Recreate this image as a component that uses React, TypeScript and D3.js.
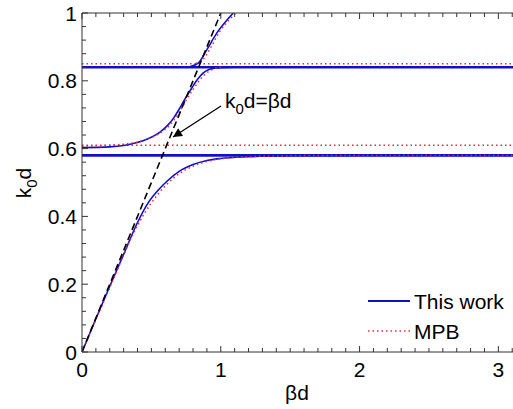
import React from 'react';
import * as d3 from 'd3';

// curves, [beta*d, k0*d]
const lowerBlue: [number, number][] = [
  [0, 0], [0.1, 0.098], [0.2, 0.194], [0.3, 0.288], [0.4, 0.382], [0.48, 0.442],
  [0.55, 0.478], [0.61, 0.503], [0.7, 0.533], [0.8, 0.553], [0.9, 0.565], [1.0, 0.571],
  [1.2, 0.576], [1.5, 0.579], [2.0, 0.58], [Math.PI, 0.58],
];
const lowerRed: [number, number][] = [
  [0, 0], [0.2, 0.19], [0.4, 0.373], [0.5, 0.44], [0.6, 0.49], [0.7, 0.526],
  [0.8, 0.548], [0.9, 0.562], [1.0, 0.57], [1.2, 0.576], [1.5, 0.579], [2.0, 0.58], [Math.PI, 0.58],
];
const middleBlue: [number, number][] = [
  [0, 0.603], [0.2, 0.605], [0.3, 0.609], [0.39, 0.617], [0.48, 0.63], [0.56, 0.648],
  [0.62, 0.67], [0.66, 0.69], [0.7, 0.716], [0.74, 0.745], [0.79, 0.778], [0.83, 0.803],
  [0.87, 0.822], [0.92, 0.834], [1.0, 0.839], [1.1, 0.84],
];
const middleRed: [number, number][] = [
  [0, 0.607], [0.3, 0.613], [0.45, 0.625], [0.55, 0.643], [0.63, 0.668], [0.69, 0.7],
  [0.75, 0.742], [0.8, 0.774], [0.85, 0.803], [0.9, 0.824], [0.95, 0.835], [1.0, 0.84],
];
const topBlue: [number, number][] = [
  [0.78, 0.842], [0.84, 0.853], [0.9, 0.892], [0.97, 0.94], [1.03, 0.972], [1.09, 1.0],
];
const topRed: [number, number][] = [
  [0.82, 0.851], [0.87, 0.862], [0.93, 0.9], [0.99, 0.944], [1.05, 0.975], [1.11, 1.0],
];
const flatBlue = [0.58, 0.84];
const flatRed = [0.61, 0.85];
const lightLine: [number, number][] = [[0, 0], [1, 1]];

const xTicks = [0, 1, 2, 3];
const yTicks = [0, 0.2, 0.4, 0.6, 0.8, 1];

const font = 'Liberation Sans, Arial, sans-serif';

export default function App() {
  const width = 513;
  const height = 409;
  const x = d3.scaleLinear().domain([0, Math.PI]).range([82, 518]);
  const y = d3.scaleLinear().domain([0, 1]).range([352, 13]);
  const line = d3
    .line<[number, number]>()
    .x((d) => x(d[0]))
    .y((d) => y(d[1]))
    .curve(d3.curveMonotoneX);

  const xMinor = d3.range(0, 3.15, 0.1);
  const yMinor = d3.range(0, 1.001, 0.04);
  const blue = '#1010c8';
  const red = '#e8283c';

  return (
    <svg width={width} height={height} style={{ position: 'absolute', left: 0, top: 0 }}>
      <defs>
        <clipPath id="plot">
          <rect x={x(0)} y={y(1)} width={x(Math.PI) - x(0)} height={y(0) - y(1)} />
        </clipPath>
        <marker id="head" viewBox="0 0 10 10" refX="10" refY="5" markerWidth="12" markerHeight="9" markerUnits="userSpaceOnUse" orient="auto">
          <path d="M0,0 L10,5 L0,10 z" fill="#000" />
        </marker>
      </defs>
      <rect width={width} height={height} fill="#fff" />

      <g clipPath="url(#plot)" fill="none">
        {flatRed.map((k) => (
          <line key={'fr' + k} x1={x(0)} x2={x(Math.PI)} y1={y(k)} y2={y(k)} stroke={red} strokeWidth={1.5} strokeDasharray="1.5,3" />
        ))}
        {flatBlue.map((k) => (
          <line key={'fb' + k} x1={x(0)} x2={x(Math.PI)} y1={y(k)} y2={y(k)} stroke={blue} strokeWidth={2.6} />
        ))}
        <path d={line(lowerBlue) ?? ''} stroke={blue} strokeWidth={1.6} />
        <path d={line(middleBlue) ?? ''} stroke={blue} strokeWidth={1.6} />
        <path d={line(topBlue) ?? ''} stroke={blue} strokeWidth={1.6} />
        <path d={line(lowerRed) ?? ''} stroke={red} strokeWidth={1.5} strokeDasharray="1.5,3" />
        <path d={line(middleRed) ?? ''} stroke={red} strokeWidth={1.5} strokeDasharray="1.5,3" />
        <path d={line(topRed) ?? ''} stroke={red} strokeWidth={1.5} strokeDasharray="1.5,3" />
        <path d={d3.line()(lightLine.map((d) => [x(d[0]), y(d[1])])) ?? ''} stroke="#000" strokeWidth={1.6} strokeDasharray="7,4" />
      </g>

      {/* axes box */}
      <g stroke="#333" strokeWidth={1}>
        <line x1={x(0)} x2={x(0)} y1={y(0)} y2={y(1)} />
        <line x1={x(0)} x2={width} y1={y(0)} y2={y(0)} />
        <line x1={x(0)} x2={width} y1={y(1)} y2={y(1)} />
        {xMinor.map((t) => {
          const major = Math.abs(t - Math.round(t)) < 1e-6;
          const len = major ? 6 : 4;
          return (
            <g key={'xt' + t}>
              <line x1={x(t)} x2={x(t)} y1={y(0)} y2={y(0) - len} />
              <line x1={x(t)} x2={x(t)} y1={y(1)} y2={y(1) + len} />
            </g>
          );
        })}
        {yMinor.map((t) => {
          const major = Math.abs(t * 5 - Math.round(t * 5)) < 1e-6;
          return <line key={'yt' + t} x1={x(0)} x2={x(0) + (major ? 6 : 4)} y1={y(t)} y2={y(t)} />;
        })}
      </g>

      <g fontFamily={font} fontSize={21} fill="#000">
        {xTicks.map((t) => (
          <text key={'xl' + t} x={x(t)} y={377} textAnchor="middle">{t}</text>
        ))}
        {yTicks.map((t) => (
          <text key={'yl' + t} x={77} y={y(t) + 7.5} textAnchor="end">{t}</text>
        ))}
        <text x={297} y={400} textAnchor="middle">βd</text>
        <text transform="translate(31,183) rotate(-90)" textAnchor="middle">
          k<tspan fontSize={15} dy={6}>0</tspan><tspan dy={-6}>d</tspan>
        </text>
        <text x={225} y={108}>
          k<tspan fontSize={15} dy={6}>0</tspan><tspan dy={-6}>d=βd</tspan>
        </text>
        <text x={414} y={309}>This work</text>
        <text x={414} y={339}>MPB</text>
      </g>

      <line x1={221} y1={106} x2={173} y2={137} stroke="#000" strokeWidth={1.3} markerEnd="url(#head)" />

      <line x1={368} x2={410} y1={301} y2={301} stroke={blue} strokeWidth={1.8} />
      <line x1={368} x2={410} y1={331} y2={331} stroke={red} strokeWidth={1.5} strokeDasharray="1.5,3" />
    </svg>
  );
}
